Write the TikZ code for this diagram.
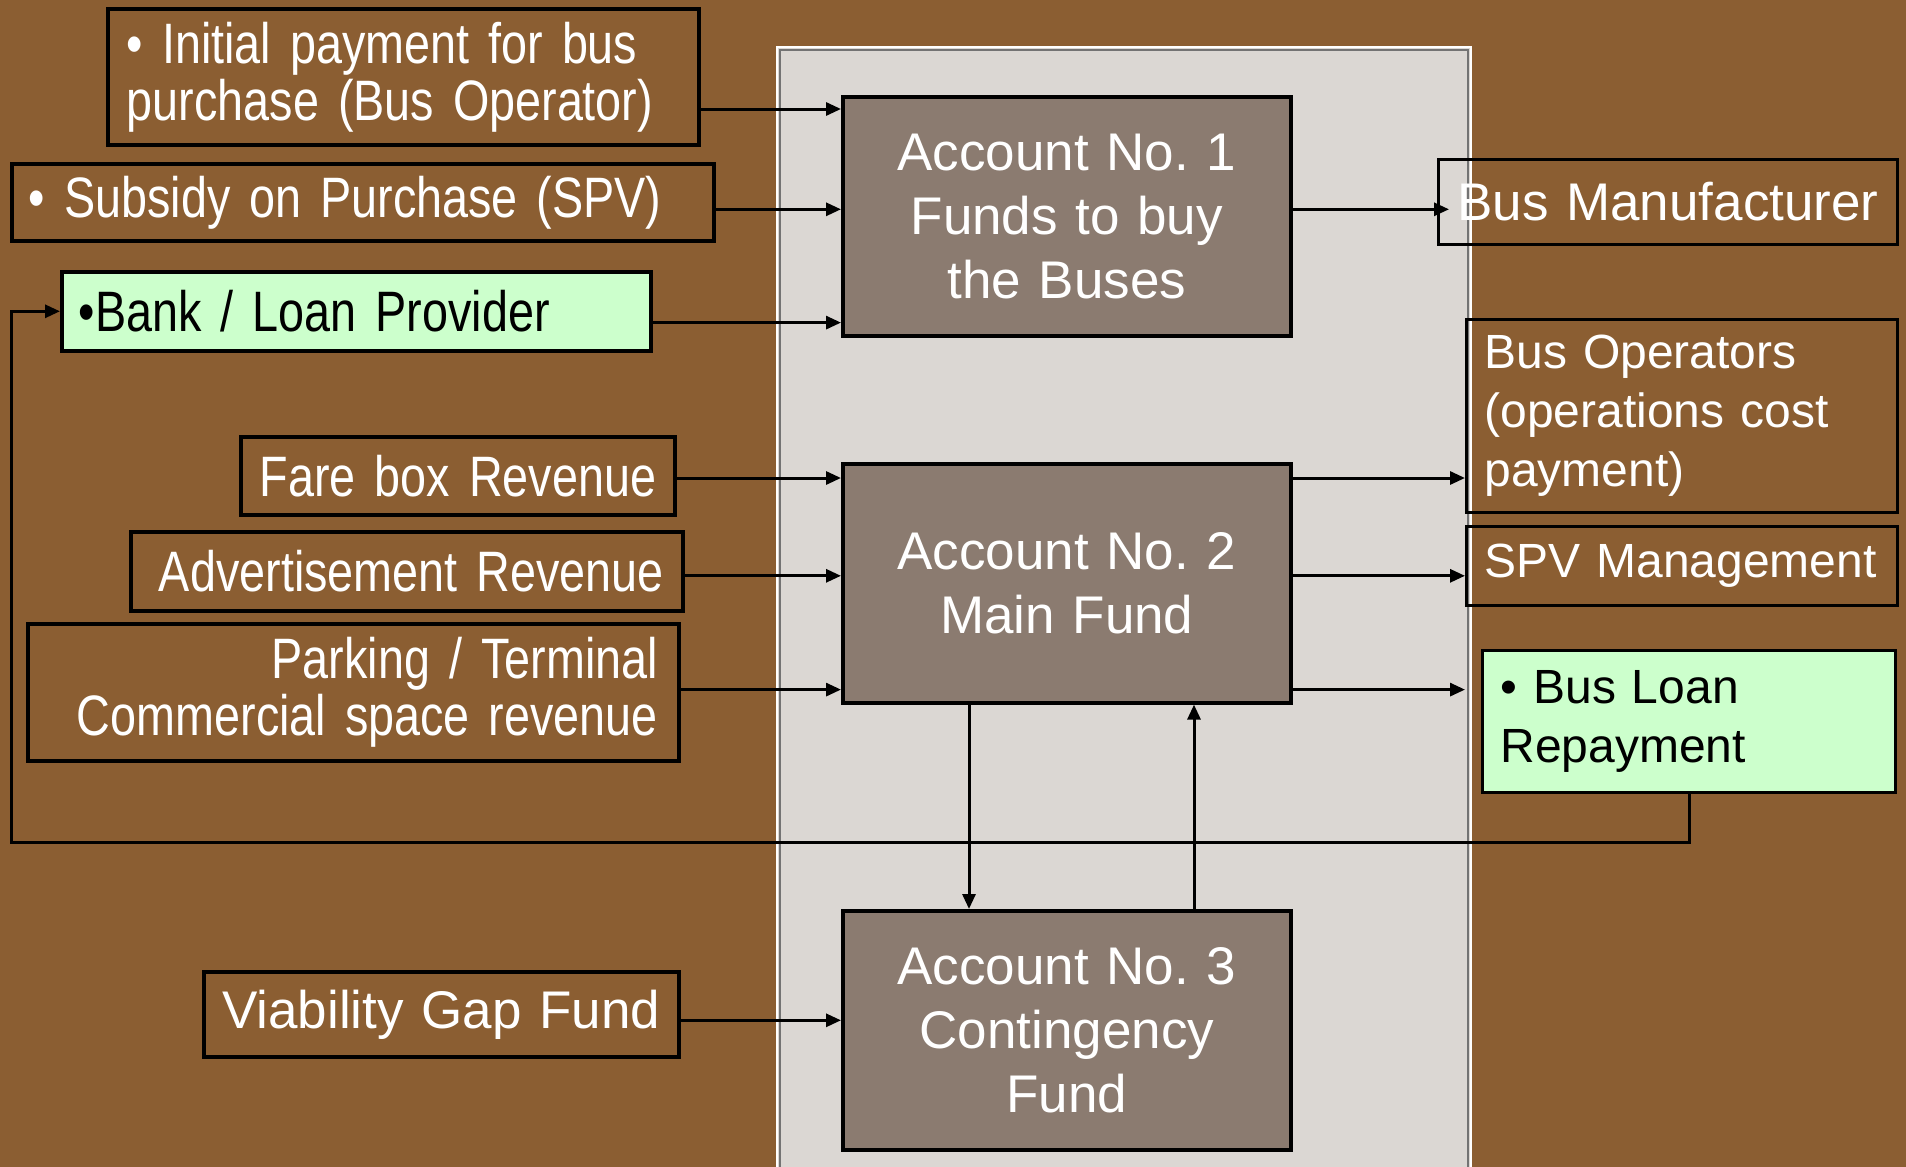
\documentclass[tikz,border=0pt]{standalone}
\usepackage{fontspec}
\setmainfont{Liberation Sans}
\newfontfamily\narrowfont{Liberation Sans}[FakeStretch=0.82,WordSpace=0.8]
\usepackage{tikz}
\usetikzlibrary{arrows.meta}
\usetikzlibrary{calc}
\usetikzlibrary{positioning}

\definecolor{bgbrown}{RGB}{139,94,50}
\definecolor{panelgrey}{RGB}{219,215,211}
\definecolor{acctgrey}{RGB}{139,123,112}
\definecolor{loangreen}{RGB}{204,255,204}

\tikzset{
  plainbox/.style={draw=black,line width=1.8pt,inner ysep=0pt,anchor=north west},
  srcbox/.style={plainbox,text=white,font=\narrowfont\fontsize{28.5}{28.5}\selectfont},
  acctbox/.style={plainbox,fill=acctgrey,text=white,align=center,inner xsep=0pt,
                  text width=224pt,minimum height=119.5pt,font=\fontsize{26.5}{32}\selectfont},
  sinkbox/.style={plainbox,line width=1.5pt,text=white,align=left,font=\fontsize{24}{29.5}\selectfont},
  greenbox/.style={fill=loangreen,text=black},
  flowarrow/.style={line width=1.5pt,-{Triangle[length=7.5pt,width=6.5pt]}},
}

\begin{document}
\frenchspacing
\begin{tikzpicture}[x=0.5pt,y=-0.5pt]

  \useasboundingbox (0,0) rectangle (1906,1167);
  \fill [bgbrown] (0,0) rectangle (1906,1167);

  % grey panel behind the three accounts
  \fill [panelgrey] (778,48) rectangle (1470,1167);
  \draw [white,line width=1pt] (777,1170) |- (1471,47) -- (1471,1170);
  \draw [black!55,line width=0.6pt] (780,1170) |- (1468,50) -- (1468,1170);

  % sources
  \node [srcbox,inner xsep=9.5pt,text width=276.5pt,align=left,minimum height=68pt] (initial) at (106,7)
    {• Initial payment for bus\\purchase (Bus Operator)};
  \node [srcbox,inner xsep=8.5pt,text width=334pt,align=left,minimum height=38.5pt] (subsidy) at (10,162)
    {\mbox{• Subsidy on Purchase (SPV)}};
  \node [srcbox,greenbox,inner xsep=8.5pt,text width=277.5pt,align=left,minimum height=39.5pt] (bank) at (60,270)
    {\mbox{•Bank / Loan Provider}};
  \node [srcbox,inner xsep=9.5pt,text width=198pt,align=right,minimum height=39pt] (farebox) at (239,435)
    {\mbox{Fare box Revenue}};
  \node [srcbox,inner xsep=9.5pt,text width=257pt,align=right,minimum height=39.5pt] (advert) at (129,530)
    {\mbox{Advertisement Revenue}};
  \node [srcbox,inner xsep=10.5pt,text width=304.5pt,align=right,minimum height=68.5pt] (parking) at (26,622)
    {Parking / Terminal\\Commercial space revenue};
  \node [srcbox,inner xsep=0pt,text width=237.5pt,align=center,minimum height=42.5pt,
         font=\fontsize{26.5}{32}\selectfont] (viability) at (202,970)
    {\mbox{Viability Gap Fund}};

  % accounts
  \node [acctbox] (acct1) at (841,95)  {Account No. 1\\Funds to buy\\the Buses};
  \node [acctbox] (acct2) at (841,462) {Account No. 2\\Main Fund};
  \node [acctbox] (acct3) at (841,909) {Account No. 3\\Contingency\\Fund};

  % payments out
  \node [sinkbox,align=center,inner xsep=0pt,text width=229.5pt,minimum height=42.5pt,
         font=\fontsize{26.5}{32}\selectfont] (busmaker) at (1437,158)
    {\mbox{Bus Manufacturer}};
  \node [sinkbox,inner xsep=9pt,text width=197.5pt,minimum height=96.5pt] (busops) at (1465,318)
    {Bus Operators\\(operations cost\\payment)};
  \node [sinkbox,inner xsep=9pt,text width=197.5pt,minimum height=39.5pt] (spv) at (1465,525)
    {\mbox{SPV Management}};
  \node [sinkbox,greenbox,inner xsep=9pt,text width=188.5pt,minimum height=71pt] (loan) at (1481,649)
    {• Bus Loan\\Repayment};

  \coordinate (a1_in1) at ($(acct1.north west)+(0,14)$);
  \coordinate (a1_in2) at ($(acct1.west)+(0,-7)$);
  \coordinate (a1_in3) at ($(acct1.south west)+(0,-15)$);
  \coordinate (a2_in1) at ($(acct2.north west)+(0,16)$);
  \coordinate (a2_in2) at ($(acct2.west)+(0,-7.5)$);
  \coordinate (a2_in3) at ($(acct2.south west)+(0,-15)$);
  \coordinate (a3_in)  at ($(acct3.west)+(0,-10)$);
  \coordinate (busmaker_tip) at ([xshift=6pt]busmaker.west);
  \coordinate (loan_tip) at ([xshift=-8pt]loan.west);
  \coordinate (a2_down) at ($(acct2.south west)+(128,0)$);
  \coordinate (a3_down) at ($(acct3.north west)+(128,0)$);
  \coordinate (a3_up)   at ($(acct3.north west)+(353,0)$);
  \coordinate (a2_up)   at ($(acct2.south west)+(353,0)$);

  \path [flowarrow]
    (a1_in1 -| initial.east)   edge (a1_in1)
    (a1_in2 -| subsidy.east)   edge (a1_in2)
    (a1_in3 -| bank.east)      edge (a1_in3)
    (a2_in1 -| farebox.east)   edge (a2_in1)
    (a2_in2 -| advert.east)    edge (a2_in2)
    (a2_in3 -| parking.east)   edge (a2_in3)
    (a3_in  -| viability.east) edge (a3_in);

  \path [flowarrow]
    (a1_in2 -| acct1.east) edge (busmaker_tip |- a1_in2)
    (a2_in1 -| acct2.east) edge (a2_in1 -| busops.west)
    (a2_in2 -| acct2.east) edge (a2_in2 -| spv.west)
    (a2_in3 -| acct2.east) edge (a2_in3 -| loan_tip)
    (a2_down) edge (a3_down)
    (a3_up)   edge (a2_up);

  % repayment goes back to the lender
  \draw [flowarrow] (loan.south) -- ++(0,48) -| ([xshift=-24.5pt]bank.west) -- (bank.west);

\end{tikzpicture}
\end{document}
